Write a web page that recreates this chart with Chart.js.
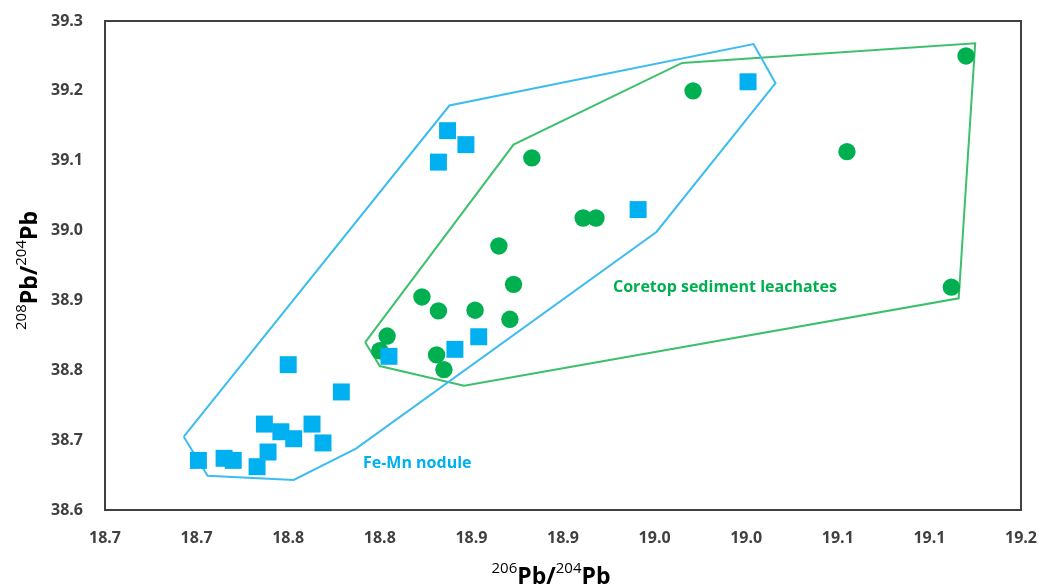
<!DOCTYPE html>
<html lang="en">

<head>
    <meta charset="UTF-8">
    <meta name="viewport" content="width=device-width, initial-scale=1.0">
    <title>Pb isotopes</title>

    <script src="https://cdn.jsdelivr.net/npm/chart.js"></script>

    <style>
        body {
            margin: 0;
            background-color: #ffffff;
        }

        .grafico {
            position: relative;
            width: 1039px;
            height: 588px;
        }
    </style>
</head>

<body>
    <div class="grafico">
        <canvas id="myChart"></canvas>
    </div>

    <script>

        // 206Pb/204Pb (x) and 208Pb/204Pb (y)
        const noduleX = [18.701, 18.715, 18.720, 18.733, 18.739, 18.737, 18.746, 18.753, 18.763, 18.769,
            18.750, 18.779, 18.805, 18.841, 18.854, 18.832, 18.837, 18.847, 18.941, 19.001];
        const noduleY = [38.671, 38.674, 38.671, 38.662, 38.683, 38.723, 38.712, 38.702, 38.723, 38.696,
            38.808, 38.769, 38.820, 38.830, 38.848, 39.098, 39.143, 39.123, 39.030, 39.213];

        const coretopX = [18.804, 18.800, 18.831, 18.835, 18.823, 18.832, 18.852, 18.871, 18.873,
            18.865, 18.883, 18.911, 18.918, 18.971, 19.055, 19.112, 19.120];
        const coretopY = [38.849, 38.828, 38.822, 38.801, 38.905, 38.885, 38.886, 38.873, 38.923,
            38.978, 39.104, 39.018, 39.018, 39.200, 39.113, 38.919, 39.250];

        // outlines drawn round each group (closed)
        const noduleHullX = [18.693, 18.706, 18.753, 18.787, 18.951, 19.016, 19.004, 18.838, 18.693];
        const noduleHullY = [38.705, 38.649, 38.643, 38.688, 38.998, 39.211, 39.267, 39.179, 38.705];

        const coretopHullX = [18.792, 18.800, 18.846, 19.116, 19.125, 18.965, 18.873, 18.792];
        const coretopHullY = [38.840, 38.806, 38.778, 38.903, 39.268, 39.240, 39.123, 38.840];

        const xTickLabels = ['18.7', '18.7', '18.8', '18.8', '18.9', '18.9', '19.0', '19.0', '19.1', '19.1', '19.2'];
        const yTickLabels = ['38.6', '38.7', '38.8', '38.9', '39.0', '39.1', '39.2', '39.3'];

        const toPoints = (xs, ys) => xs.map((x, i) => ({ x: x, y: ys[i] }));

        const tickColor = '#404040';
        const tickFont = { family: 'Open Sans', size: 16, weight: 'bold' };

        // draws "206Pb/204Pb" style text with raised mass numbers
        function drawIsotopeText(ctx, parts, cx, cy, angle) {
            ctx.save();
            ctx.translate(cx, cy);
            ctx.rotate(angle);
            ctx.textAlign = 'left';
            ctx.textBaseline = 'alphabetic';
            ctx.fillStyle = '#000000';
            let total = 0;
            parts.forEach(p => {
                ctx.font = p.sup ? '15px "Open Sans"' : 'bold 23px "Open Sans"';
                p.w = ctx.measureText(p.t).width;
                total += p.w;
            });
            let x = -total / 2;
            parts.forEach(p => {
                ctx.font = p.sup ? '15px "Open Sans"' : 'bold 23px "Open Sans"';
                ctx.fillText(p.t, x, p.sup ? -11 : 0);
                x += p.w;
            });
            ctx.restore();
        }

        const decorations = {
            id: 'decorations',
            beforeDatasetsDraw(chart) {
                const ctx = chart.ctx;
                const a = chart.chartArea;
                ctx.save();
                ctx.strokeStyle = '#404040';
                ctx.lineWidth = 2;
                ctx.strokeRect(a.left, a.top, a.right - a.left, a.bottom - a.top);
                ctx.restore();
            },
            afterDatasetsDraw(chart) {
                const ctx = chart.ctx;
                const a = chart.chartArea;
                const sx = chart.scales.x;
                const sy = chart.scales.y;

                ctx.save();
                ctx.font = 'bold 16px "Open Sans"';
                ctx.textAlign = 'left';
                ctx.textBaseline = 'middle';
                ctx.fillStyle = '#00b0f0';
                ctx.fillText('Fe-Mn nodule', sx.getPixelForValue(18.7908), sy.getPixelForValue(38.667));
                ctx.fillStyle = '#00b050';
                ctx.fillText('Coretop sediment leachates', sx.getPixelForValue(18.9273), sy.getPixelForValue(38.918));
                ctx.restore();

                drawIsotopeText(ctx, [{ t: '206', sup: true }, { t: 'Pb' }, { t: '/' }, { t: '204', sup: true }, { t: 'Pb' }],
                    (a.left + a.right) / 2 - 12, a.bottom + 74, 0);
                drawIsotopeText(ctx, [{ t: '208', sup: true }, { t: 'Pb' }, { t: '/' }, { t: '204', sup: true }, { t: 'Pb' }],
                    a.left - 68, (a.top + a.bottom) / 2 + 5, -Math.PI / 2);
            }
        };

        var ctx = document.getElementById('myChart');

        var myChart = new Chart(ctx, {
            type: 'scatter',
            data: {
                datasets: [{
                    label: 'Fe-Mn nodule',
                    data: toPoints(noduleX, noduleY),
                    pointStyle: 'rect',
                    pointRadius: 12,
                    backgroundColor: '#00b0f0',
                    borderWidth: 0
                }, {
                    label: 'Coretop sediment leachates',
                    data: toPoints(coretopX, coretopY),
                    pointStyle: 'circle',
                    pointRadius: 8.7,
                    backgroundColor: '#00b050',
                    borderWidth: 0
                }, {
                    label: 'Fe-Mn nodule field',
                    data: toPoints(noduleHullX, noduleHullY),
                    showLine: true,
                    pointRadius: 0,
                    borderColor: '#3dbcf0',
                    borderWidth: 2,
                    fill: false
                }, {
                    label: 'Coretop field',
                    data: toPoints(coretopHullX, coretopHullY),
                    showLine: true,
                    pointRadius: 0,
                    borderColor: '#3cc06e',
                    borderWidth: 2,
                    fill: false
                }]
            },
            options: {
                responsive: true,
                maintainAspectRatio: false,
                animation: false,
                layout: {
                    padding: { left: 0, right: 18, top: 21, bottom: 0 }
                },
                plugins: {
                    legend: { display: false },
                    tooltip: { enabled: false }
                },
                scales: {
                    x: {
                        type: 'linear',
                        min: 18.65,
                        max: 19.15,
                        // hidden tick marks still push the labels away from the frame
                        grid: { display: false, drawTicks: true, tickLength: 19 },
                        border: { display: false },
                        afterFit: scale => { scale.height = 78; },
                        ticks: {
                            stepSize: 0.05,
                            padding: 0,
                            color: tickColor,
                            font: tickFont,
                            maxRotation: 0,
                            autoSkip: false,
                            callback: (value, index) => xTickLabels[index]
                        }
                    },
                    y: {
                        type: 'linear',
                        min: 38.6,
                        max: 39.3,
                        grid: { display: false, drawTicks: true, tickLength: 22 },
                        border: { display: false },
                        afterFit: scale => { scale.width = 105; },
                        ticks: {
                            stepSize: 0.1,
                            padding: 0,
                            color: tickColor,
                            font: tickFont,
                            autoSkip: false,
                            callback: (value, index) => yTickLabels[index]
                        }
                    }
                }
            },
            plugins: [decorations]
        });

    </script>

</body>

</html>
